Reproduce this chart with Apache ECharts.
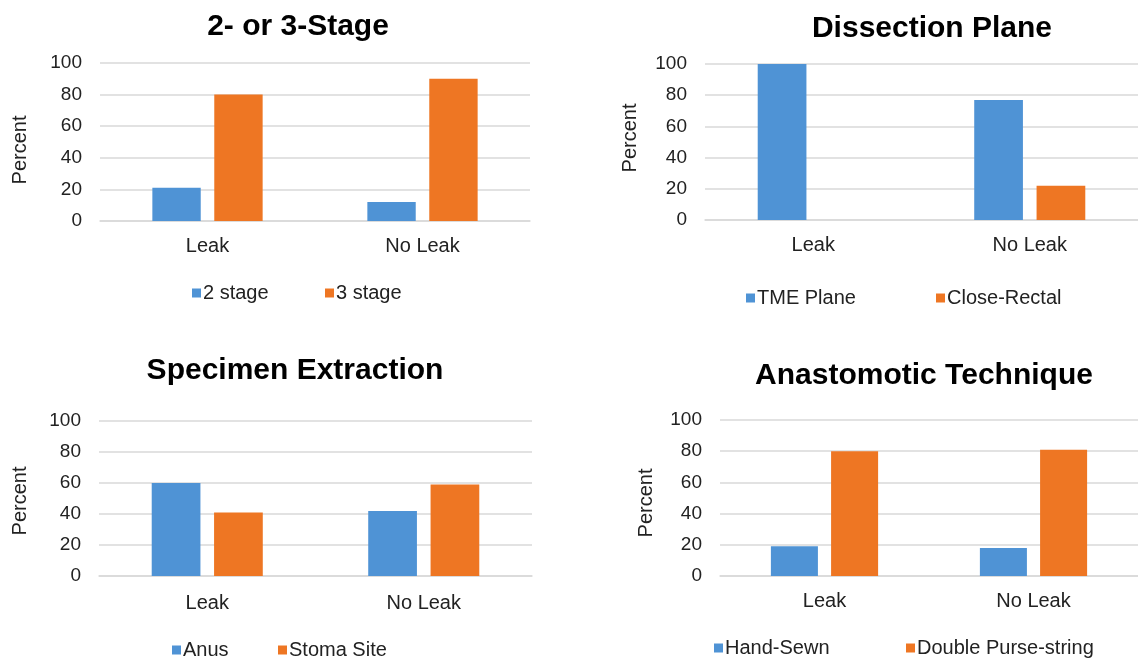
<!DOCTYPE html>
<html>
<head>
<meta charset="utf-8">
<script src="https://cdn.jsdelivr.net/npm/echarts@6/dist/echarts.min.js"></script>
<style>
html,body{margin:0;padding:0;background:#fff;}
#c{width:1138px;height:660px;}
</style>
</head>
<body>
<div id="c"></div>
<script>
const categories = ['Leak', 'No Leak'];
const titles = ['2- or 3-Stage', 'Dissection Plane', 'Specimen Extraction', 'Anastomotic Technique'];
const seriesNames = [['2 stage', '3 stage'], ['TME Plane', 'Close-Rectal'], ['Anus', 'Stoma Site'], ['Hand-Sewn', 'Double Purse-string']];
const stage2 = [21, 12];
const stage3 = [80, 90];
const tmePlane = [100, 77];
const closeRectal = [0, 22];
const anus = [60, 42];
const stomaSite = [41, 59];
const handSewn = [19, 18];
const doublePurse = [80, 81];
const yMin = 0, yMax = 100, yInterval = 20;
const yAxisName = 'Percent';

const values = [[stage2, stage3], [tmePlane, closeRectal], [anus, stomaSite], [handSewn, doublePurse]];
const colors = ['#4F93D5', '#EE7623'];
const FONT = 'Liberation Sans, Arial, Helvetica, sans-serif';
const TXT = '#222';

// layout of each panel
const grids = [
  {left: 100, top: 63, width: 430, height: 158},
  {left: 705, top: 64, width: 441, height: 156},
  {left: 99, top: 421, width: 433, height: 155},
  {left: 720, top: 420, width: 428, height: 156}
];
const titlePos = [[293, 7], [927, 9], [290, 351], [919, 356]];
// [left of square, vertical centre] for each legend item
const legendPos = [
  [[192, 293], [325, 293]],
  [[746, 298], [936, 298]],
  [[172, 650], [278, 650]],
  [[714, 648], [906, 648]]
];
const namePos = [[20, 150], [630, 138], [20, 501], [646, 503]];
const catMargins = [15, 15, 17, 15];

const chart = echarts.init(document.getElementById('c'));
const option = {
  backgroundColor: '#fff',
  animation: false,
  title: [], grid: [], xAxis: [], yAxis: [], legend: [], series: [], graphic: []
};
for (let i = 0; i < 4; i++) {
  option.title.push({
    text: titles[i], left: titlePos[i][0], top: titlePos[i][1], textAlign: 'center',
    textStyle: {fontFamily: FONT, fontSize: 30, fontWeight: 'bold', color: '#000'}
  });
  option.grid.push(Object.assign({containLabel: false}, grids[i]));
  option.xAxis.push({
    type: 'category', gridIndex: i, data: categories,
    axisLine: {lineStyle: {color: '#d9d9d9', width: 1.5}},
    axisTick: {show: false},
    axisLabel: {fontFamily: FONT, fontSize: 20, color: TXT, margin: catMargins[i]}
  });
  option.yAxis.push({
    type: 'value', gridIndex: i, min: yMin, max: yMax, interval: yInterval,
    axisLine: {show: false}, axisTick: {show: false},
    splitLine: {lineStyle: {color: '#d9d9d9', width: 1.5}},
    axisLabel: {fontFamily: FONT, fontSize: 19, color: TXT, margin: 18}
  });
  option.graphic.push({
    type: 'text', x: namePos[i][0], y: namePos[i][1], rotation: Math.PI / 2,
    style: {text: yAxisName, fontFamily: FONT, fontSize: 20, fill: TXT,
            textAlign: 'center', textVerticalAlign: 'middle'}
  });
  for (let s = 0; s < 2; s++) {
    option.legend.push({
      data: [seriesNames[i][s]], left: legendPos[i][s][0], top: legendPos[i][s][1] - 11,
      icon: 'rect', itemWidth: 9, itemHeight: 9, padding: 0,
      textStyle: {fontFamily: FONT, fontSize: 20, color: TXT, padding: [0, 0, 0, -3], lineHeight: 22}
    });
    option.series.push({
      type: 'bar', name: seriesNames[i][s], xAxisIndex: i, yAxisIndex: i,
      data: values[i][s], barWidth: '22.5%', barGap: '28%',
      itemStyle: {color: colors[s]}
    });
  }
}
chart.setOption(option);
</script>
</body>
</html>
